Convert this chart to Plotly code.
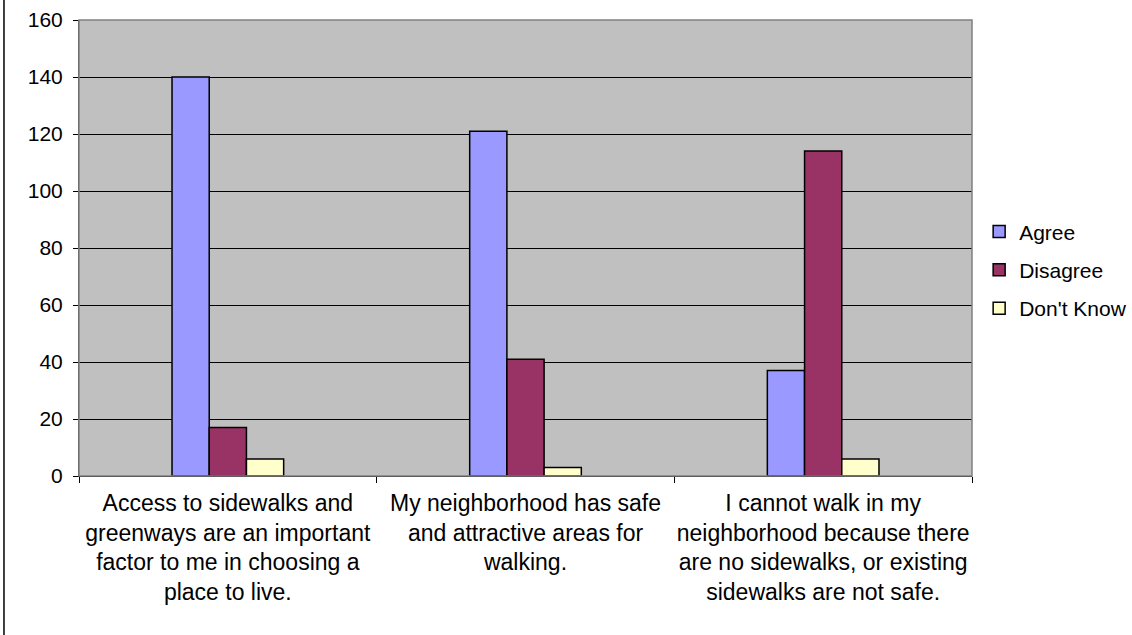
import plotly.graph_objects as go

categories = [
    "Access to sidewalks and<br>greenways are an important<br>factor to me in choosing a<br>place to live.",
    "My neighborhood has safe<br>and attractive areas for<br>walking.",
    "I cannot walk in my<br>neighborhood because there<br>are no sidewalks, or existing<br>sidewalks are not safe.",
]
agree = [140, 121, 37]
disagree = [17, 41, 114]
dont_know = [6, 3, 6]

series = [
    ("Agree", agree, "#9999FF"),
    ("Disagree", disagree, "#993366"),
    ("Don't Know", dont_know, "#FFFFCC"),
]

FONT = "Liberation Sans, Arial, sans-serif"

fig = go.Figure()
for name, vals, color in series:
    fig.add_trace(go.Bar(
        x=categories, y=vals, name=name, legendgroup=name,
        marker=dict(color=color, line=dict(color="black", width=1.5)),
    ))

fig.update_layout(
    width=1132, height=635,
    barmode="group", bargap=0.625, bargroupgap=0,
    paper_bgcolor="white", plot_bgcolor="#C0C0C0",
    margin=dict(l=79, r=160, t=20, b=159, autoexpand=False),
    font=dict(family=FONT, size=21, color="black"),
    legend=dict(
        x=1.008, y=0.452, xanchor="left", yanchor="middle",
        traceorder="grouped", tracegroupgap=8, itemwidth=30,
        font=dict(size=21), bgcolor="rgba(0,0,0,0)",
    ),
    xaxis=dict(
        type="category", tickson="boundaries", ticks="outside", ticklen=6,
        tickcolor="black", showline=True, linecolor="black", linewidth=1,
        showgrid=False, tickfont=dict(size=23), tickangle=0, automargin=False,
        ticklabelstandoff=6,
    ),
    yaxis=dict(
        range=[0, 160], dtick=20, ticks="outside", ticklen=5, tickcolor="black",
        showline=True, linecolor="#404040", linewidth=1,
        showgrid=True, gridcolor="black", gridwidth=1, zeroline=False,
        tickfont=dict(size=21), ticklabelstandoff=6, automargin=False,
    ),
    shapes=[
        dict(type="rect", xref="paper", yref="paper", x0=0, x1=1, y0=0, y1=1,
             line=dict(color="#808080", width=1.5), layer="above"),
        dict(type="line", xref="paper", yref="paper", x0=-0.084, x1=-0.084,
             y0=-0.4, y1=1.1, line=dict(color="black", width=1.5)),
    ],
)

# page body has a default 8px margin; drop it so the figure sits at 0,0
fig.write_html(
    "out.html",
    config={"displayModeBar": False},
    post_script="document.body.style.margin='0';",
)
